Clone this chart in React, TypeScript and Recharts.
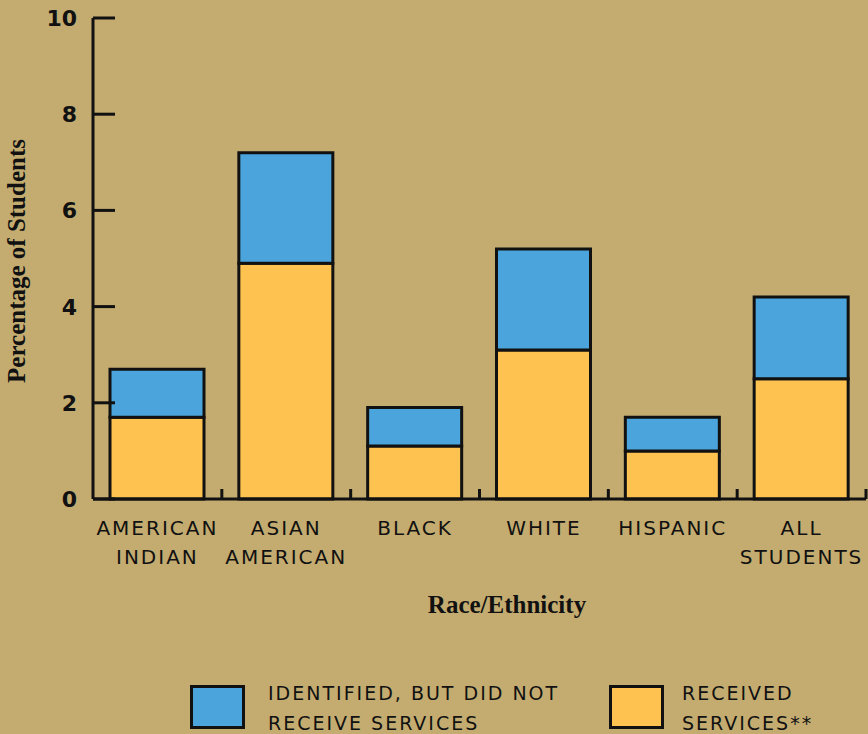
import { Bar, BarChart, XAxis, YAxis } from 'recharts';

const categories = ['AMERICAN INDIAN', 'ASIAN AMERICAN', 'BLACK', 'WHITE', 'HISPANIC', 'ALL STUDENTS'];
const receivedServices = [1.7, 4.9, 1.1, 3.1, 1.0, 2.5];
const identifiedNotReceived = [1.0, 2.3, 0.8, 2.1, 0.7, 1.7];
const yTicks = [0, 2, 4, 6, 8, 10];

const BG = '#C4AC70';
const BLUE = '#4BA4DB';
const YELLOW = '#FEC250';
const INK = '#111';
const HAND = '"DejaVu Sans", sans-serif';
const SERIF = '"Liberation Serif", serif';

const data = categories.map((name, i) => ({
  name,
  received: receivedServices[i],
  identified: identifiedNotReceived[i],
}));

function YTick({ x, y, payload }: any) {
  return (
    <g>
      <line x1={x + 16} x2={x + 38} y1={y} y2={y} stroke={INK} strokeWidth={3} />
      <text x={x} y={y} dy={8} textAnchor="end" fontFamily={HAND} fontWeight={700} fontSize={22} fill={INK}>
        {payload.value}
      </text>
    </g>
  );
}

// category label plus the small upward tick at the right edge of each band
function XTick({ x, y, payload, width, visibleTicksCount }: any) {
  const lines = String(payload.value).split(' ');
  const half = width / visibleTicksCount / 2;
  return (
    <g>
      <line x1={x + half} x2={x + half} y1={y} y2={y - 10} stroke={INK} strokeWidth={3} />
      <text x={x} y={y} textAnchor="middle" fontFamily={HAND} fontSize={20} fill={INK} style={{ letterSpacing: 2 }}>
        {lines.map((line, i) => (
          <tspan key={line} x={x} dy={i === 0 ? 36 : 29}>
            {line}
          </tspan>
        ))}
      </text>
    </g>
  );
}

function LegendItem({ color, lines, left, textLeft }: { color: string; lines: string[]; left: number; textLeft: number }) {
  return (
    <>
      <div
        style={{
          position: 'absolute',
          left,
          top: 685,
          width: 49,
          height: 38,
          background: color,
          border: `3px solid ${INK}`,
        }}
      />
      <div
        style={{
          position: 'absolute',
          left: textLeft,
          top: 678,
          fontFamily: HAND,
          fontSize: 19,
          lineHeight: '30px',
          letterSpacing: 2,
          color: INK,
          whiteSpace: 'nowrap',
        }}
      >
        {lines.map((l) => (
          <div key={l}>{l}</div>
        ))}
      </div>
    </>
  );
}

export default function App() {
  return (
    <div style={{ position: 'absolute', left: 0, top: 0, width: 868, height: 734, background: BG, overflow: 'hidden' }}>
      <BarChart width={868} height={734} data={data} margin={{ top: 18, right: 2, bottom: 165, left: 0 }} barSize={94}>
        <XAxis
          dataKey="name"
          height={70}
          axisLine={{ stroke: INK, strokeWidth: 3 }}
          tickLine={false}
          tickSize={0}
          tickMargin={0}
          tick={<XTick />}
          interval={0}
        />
        <YAxis
          width={93}
          domain={[0, 10]}
          ticks={yTicks}
          axisLine={{ stroke: INK, strokeWidth: 3 }}
          tickLine={false}
          tickSize={0}
          tickMargin={16}
          tick={<YTick />}
        />
        <Bar dataKey="received" stackId="a" fill={YELLOW} stroke={INK} strokeWidth={3} isAnimationActive={false} />
        <Bar dataKey="identified" stackId="a" fill={BLUE} stroke={INK} strokeWidth={3} isAnimationActive={false} />
        <text
          x={25}
          y={261}
          transform="rotate(-90 25 261)"
          textAnchor="middle"
          fontFamily={SERIF}
          fontWeight={700}
          fontSize={25}
          fill={INK}
        >
          Percentage of Students
        </text>
        <text x={507} y={613} textAnchor="middle" fontFamily={SERIF} fontWeight={700} fontSize={25} fill={INK}>
          Race/Ethnicity
        </text>
      </BarChart>
      <LegendItem color={BLUE} lines={['IDENTIFIED, BUT DID NOT', 'RECEIVE SERVICES']} left={190} textLeft={268} />
      <LegendItem color={YELLOW} lines={['RECEIVED', 'SERVICES**']} left={609} textLeft={682} />
    </div>
  );
}
